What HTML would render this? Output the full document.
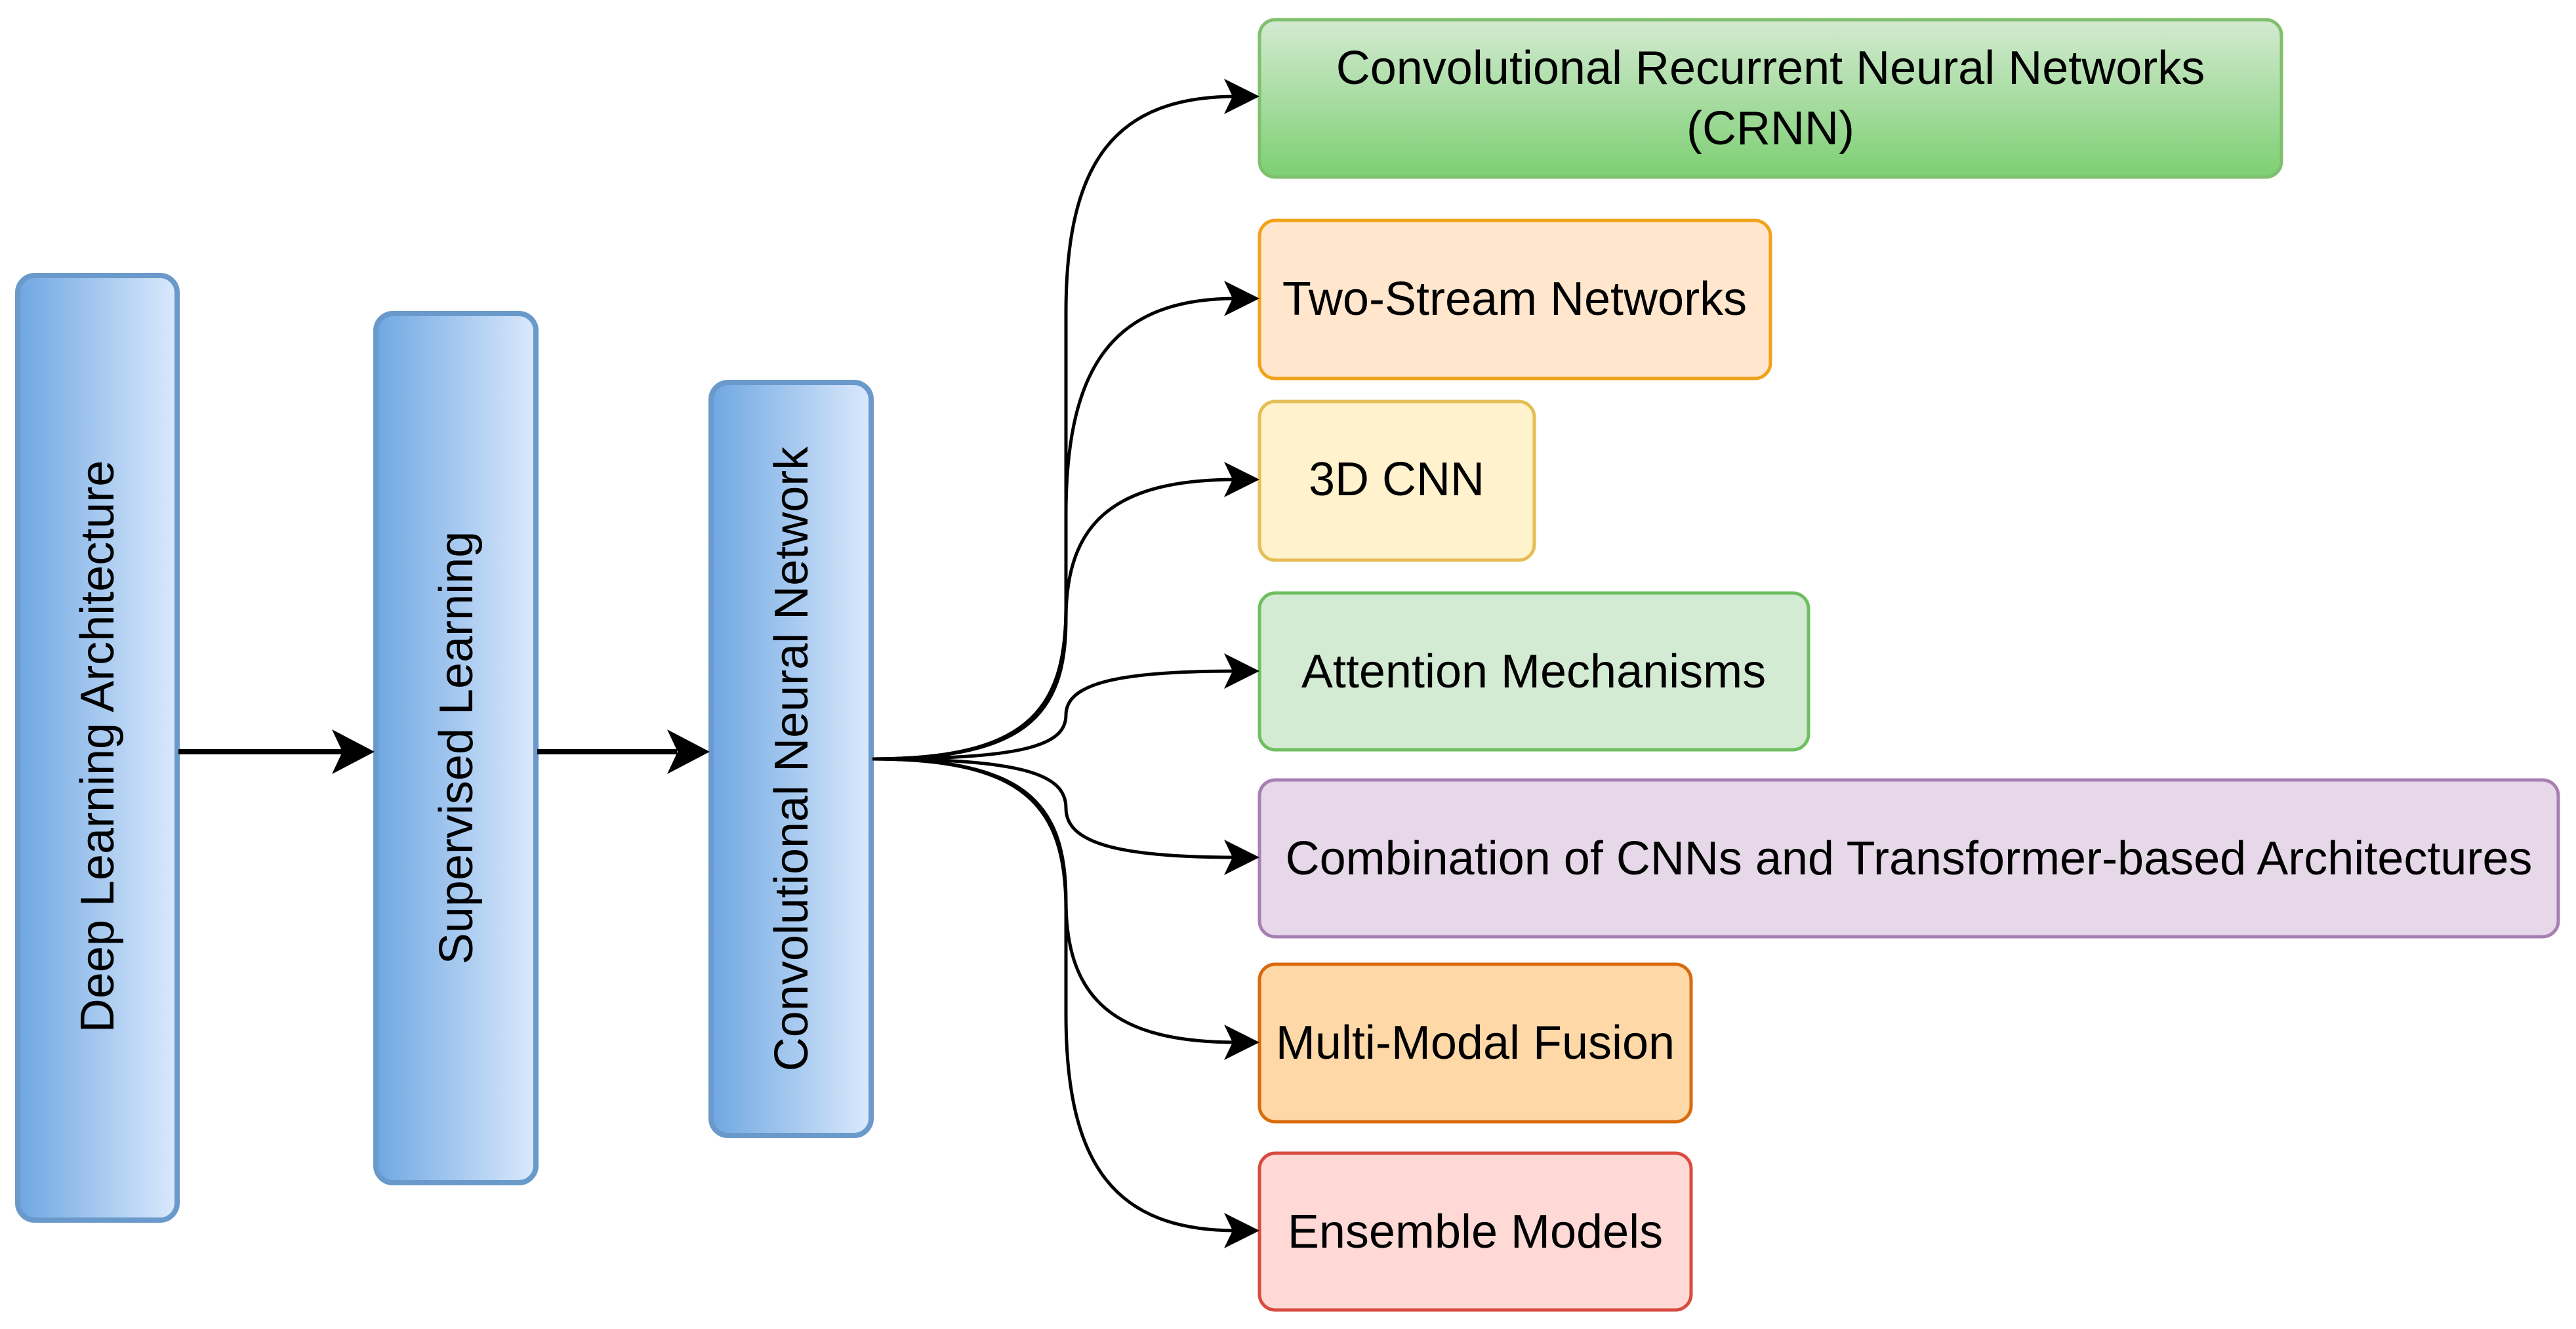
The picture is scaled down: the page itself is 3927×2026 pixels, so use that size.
<!DOCTYPE html>
<html><head><meta charset="utf-8"><style>
html,body{margin:0;padding:0;background:#fff;}
svg{display:block;}
text{font-family:"Liberation Sans",Arial,sans-serif;font-size:72px;fill:#000;}
</style></head><body>
<svg width="3927" height="2026" viewBox="0 0 3927 2026" xmlns="http://www.w3.org/2000/svg">
<defs>
<linearGradient id="blue" x1="0" y1="0" x2="1" y2="0">
<stop offset="0" stop-color="#6fa7e2"/><stop offset="1" stop-color="#dbe9fc"/></linearGradient>
<linearGradient id="green" x1="0" y1="0" x2="0" y2="1">
<stop offset="0" stop-color="#d3ead1"/><stop offset="1" stop-color="#7dcf73"/></linearGradient>
</defs>
<!-- left blue boxes -->
<rect x="27" y="420" width="243" height="1440" rx="26" fill="url(#blue)" stroke="#6a9acb" stroke-width="8"/>
<rect x="573" y="478" width="244" height="1325" rx="26" fill="url(#blue)" stroke="#6a9acb" stroke-width="8"/>
<rect x="1084" y="583" width="244" height="1148" rx="26" fill="url(#blue)" stroke="#6a9acb" stroke-width="8"/>
<text transform="translate(173,1138) rotate(-90)" text-anchor="middle">Deep Learning Architecture</text>
<text transform="translate(720,1140) rotate(-90)" text-anchor="middle">Supervised Learning</text>
<text transform="translate(1231,1157) rotate(-90)" text-anchor="middle">Convolutional Neural Network</text>
<!-- straight arrows -->
<line x1="272" y1="1146" x2="522" y2="1146" stroke="#000" stroke-width="8"/>
<path d="M571,1146 L506,1112 L522,1146 L506,1180 Z" fill="#000"/>
<line x1="819" y1="1146" x2="1032" y2="1146" stroke="#000" stroke-width="8"/>
<path d="M1082,1146 L1017,1112 L1033,1146 L1017,1180 Z" fill="#000"/>
<!-- right boxes -->
<rect x="1920" y="30" width="1558" height="240" rx="24" fill="url(#green)" stroke="#80bf6e" stroke-width="5"/>
<text x="2699" y="128" text-anchor="middle">Convolutional Recurrent Neural Networks</text>
<text x="2699" y="220" text-anchor="middle">(CRNN)</text>
<rect x="1920" y="336" width="779" height="241" rx="24" fill="#ffe6cc" stroke="#f2a21a" stroke-width="5"/>
<text x="2309" y="480" text-anchor="middle">Two-Stream Networks</text>
<rect x="1920" y="612" width="419" height="242" rx="24" fill="#fff2cc" stroke="#e5bd55" stroke-width="5"/>
<text x="2129" y="755" text-anchor="middle">3D CNN</text>
<rect x="1920" y="904" width="837" height="239" rx="24" fill="#d3ead3" stroke="#6ebf5f" stroke-width="5"/>
<text x="2338" y="1048" text-anchor="middle">Attention Mechanisms</text>
<rect x="1920" y="1189" width="1980" height="239" rx="24" fill="#e6d8e8" stroke="#a77fb4" stroke-width="5"/>
<text x="2910" y="1333" text-anchor="middle">Combination of CNNs and Transformer-based Architectures</text>
<rect x="1920" y="1470" width="658" height="240" rx="24" fill="#ffd8a8" stroke="#d86b0c" stroke-width="5"/>
<text x="2249" y="1614" text-anchor="middle">Multi-Modal Fusion</text>
<rect x="1920" y="1758" width="658" height="239" rx="24" fill="#ffd9d6" stroke="#d94a3f" stroke-width="5"/>
<text x="2249" y="1902" text-anchor="middle">Ensemble Models</text>
<!-- fan curves -->
<g fill="none" stroke="#000" stroke-width="5">
<path d="M1330,1157 C1560,1157 1625,1088 1625,927 L1625,477 C1625,246 1700,147 1885,147"/>
<path d="M1330,1157 C1560,1157 1625,1088 1625,927 L1625,785 C1625,554 1700,455 1885,455"/>
<path d="M1330,1157 C1560,1157 1625,1093 1625,944 C1625,795 1700,731 1885,731"/>
<path d="M1330,1157 C1560,1157 1625,1137 1625,1090 C1625,1043 1700,1023 1885,1023"/>
<path d="M1330,1157 C1560,1157 1625,1180 1625,1232 C1625,1284 1700,1307 1885,1307"/>
<path d="M1330,1157 C1560,1157 1625,1222 1625,1373 C1625,1524 1700,1589 1885,1589"/>
<path d="M1330,1157 C1560,1157 1625,1226 1625,1387 L1625,1546 C1625,1777 1700,1876 1885,1876"/>
</g>
<g fill="#000">
<path d="M1920,147 L1866,120 L1879,147 L1866,174 Z"/>
<path d="M1920,455 L1866,428 L1879,455 L1866,482 Z"/>
<path d="M1920,731 L1866,704 L1879,731 L1866,758 Z"/>
<path d="M1920,1023 L1866,996 L1879,1023 L1866,1050 Z"/>
<path d="M1920,1307 L1866,1280 L1879,1307 L1866,1334 Z"/>
<path d="M1920,1589 L1866,1562 L1879,1589 L1866,1616 Z"/>
<path d="M1920,1876 L1866,1849 L1879,1876 L1866,1903 Z"/>
</g>
</svg>
</body></html>
